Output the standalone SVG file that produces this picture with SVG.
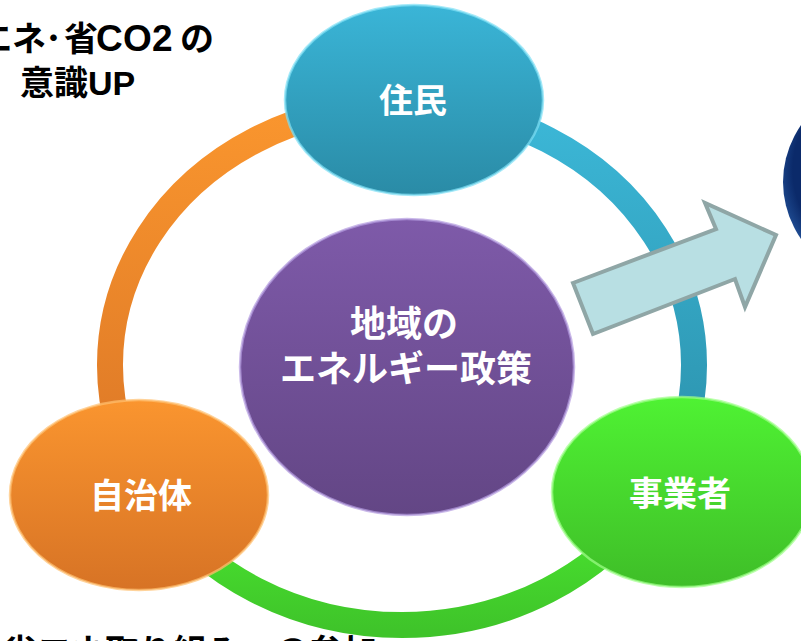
<svg xmlns="http://www.w3.org/2000/svg" width="801" height="641" viewBox="0 0 801 641">
<defs>
<linearGradient id="gOrangeRing" gradientUnits="userSpaceOnUse" x1="0" y1="105" x2="0" y2="500"><stop offset="0" stop-color="#FA962E"/><stop offset="1" stop-color="#DA7526"/></linearGradient>
<linearGradient id="gGreenRing" gradientUnits="userSpaceOnUse" x1="0" y1="495" x2="0" y2="630"><stop offset="0" stop-color="#4CEB30"/><stop offset="1" stop-color="#3FC42A"/></linearGradient>
<linearGradient id="gBlueRing" gradientUnits="userSpaceOnUse" x1="0" y1="105" x2="0" y2="500"><stop offset="0" stop-color="#3CB8D8"/><stop offset="1" stop-color="#2A8EA8"/></linearGradient>
<linearGradient id="gBlue" x1="0" y1="0" x2="0" y2="1"><stop offset="0" stop-color="#3AB5D7"/><stop offset="1" stop-color="#2A8BA6"/></linearGradient>
<linearGradient id="gPurple" x1="0" y1="0" x2="0" y2="1"><stop offset="0" stop-color="#7E5AA9"/><stop offset="1" stop-color="#634685"/></linearGradient>
<linearGradient id="gOrange" x1="0" y1="0" x2="0" y2="1"><stop offset="0" stop-color="#FA952F"/><stop offset="1" stop-color="#D77325"/></linearGradient>
<linearGradient id="gGreen" x1="0" y1="0" x2="0" y2="1"><stop offset="0" stop-color="#4FF233"/><stop offset="1" stop-color="#3FBE28"/></linearGradient>
<radialGradient id="gNavy" cx="0.5" cy="0.45" r="0.55"><stop offset="0.85" stop-color="#0B2A6A"/><stop offset="0.95" stop-color="#1E4A90"/><stop offset="1" stop-color="#9FC0F0"/></radialGradient>
<style>
.ring{fill:none;stroke-width:26}
.node{stroke-width:2.5;stroke-opacity:0.7}
.lbl{font-family:"Liberation Sans","Noto Sans CJK JP",sans-serif;font-weight:bold;fill:#FFFFFF;text-anchor:middle}
.note{font-family:"Liberation Sans","Noto Sans CJK JP",sans-serif;font-weight:bold;fill:#000000;font-size:34px}
</style>
</defs>
<rect width="801" height="641" fill="#FFFFFF"/>
<g id="connectors">
<path class="ring" stroke="url(#gOrangeRing)" d="M402,105 A292,260 0 0 0 149.1,495"/>
<path class="ring" stroke="url(#gGreenRing)" d="M149.1,495 A292,260 0 0 0 654.9,495"/>
<path class="ring" stroke="url(#gBlueRing)" d="M654.9,495 A292,260 0 0 0 402,105"/>
<polygon points="573,283 716,229 705,203 776,235 745,307 735,279 593,334" fill="#B8DFE3" stroke="#8FA6A6" stroke-width="4" stroke-linejoin="miter"/>
</g>
<g id="navy">
<ellipse cx="933" cy="182" rx="150" ry="120" fill="url(#gNavy)"/>
</g>
<g id="jumin">
<ellipse class="node" cx="414" cy="100" rx="129" ry="95" fill="url(#gBlue)" stroke="#7FE0F5"/>
<text class="lbl" x="413" y="113" font-size="34">住民</text>
</g>
<g id="center">
<ellipse class="node" cx="407" cy="367" rx="167" ry="148" fill="url(#gPurple)" stroke="#B49BE0"/>
<text class="lbl" x="404" y="337" font-size="36">地域の</text>
<text class="lbl" x="406" y="382" font-size="36">エネルギー政策</text>
</g>
<g id="jichitai">
<ellipse class="node" cx="139" cy="495" rx="129" ry="95" fill="url(#gOrange)" stroke="#FFC070"/>
<text class="lbl" x="141" y="508" font-size="34">自治体</text>
</g>
<g id="jigyosha">
<ellipse class="node" cx="682" cy="492" rx="130" ry="95" fill="url(#gGreen)" stroke="#A0FF8A"/>
<text class="lbl" x="680" y="506" font-size="34">事業者</text>
</g>
<g id="notes">
<text class="note" y="51"><tspan x="-56 -22 12">省エネ</tspan><tspan x="45 64">･省</tspan><tspan x="96 123 152" font-size="37">CO2</tspan><tspan x="180">の</tspan></text>
<text class="note" x="20" y="95">意識UP</text>
<text class="note" x="3" y="664">省エネ取り組みへの参加</text>
</g>
</svg>
